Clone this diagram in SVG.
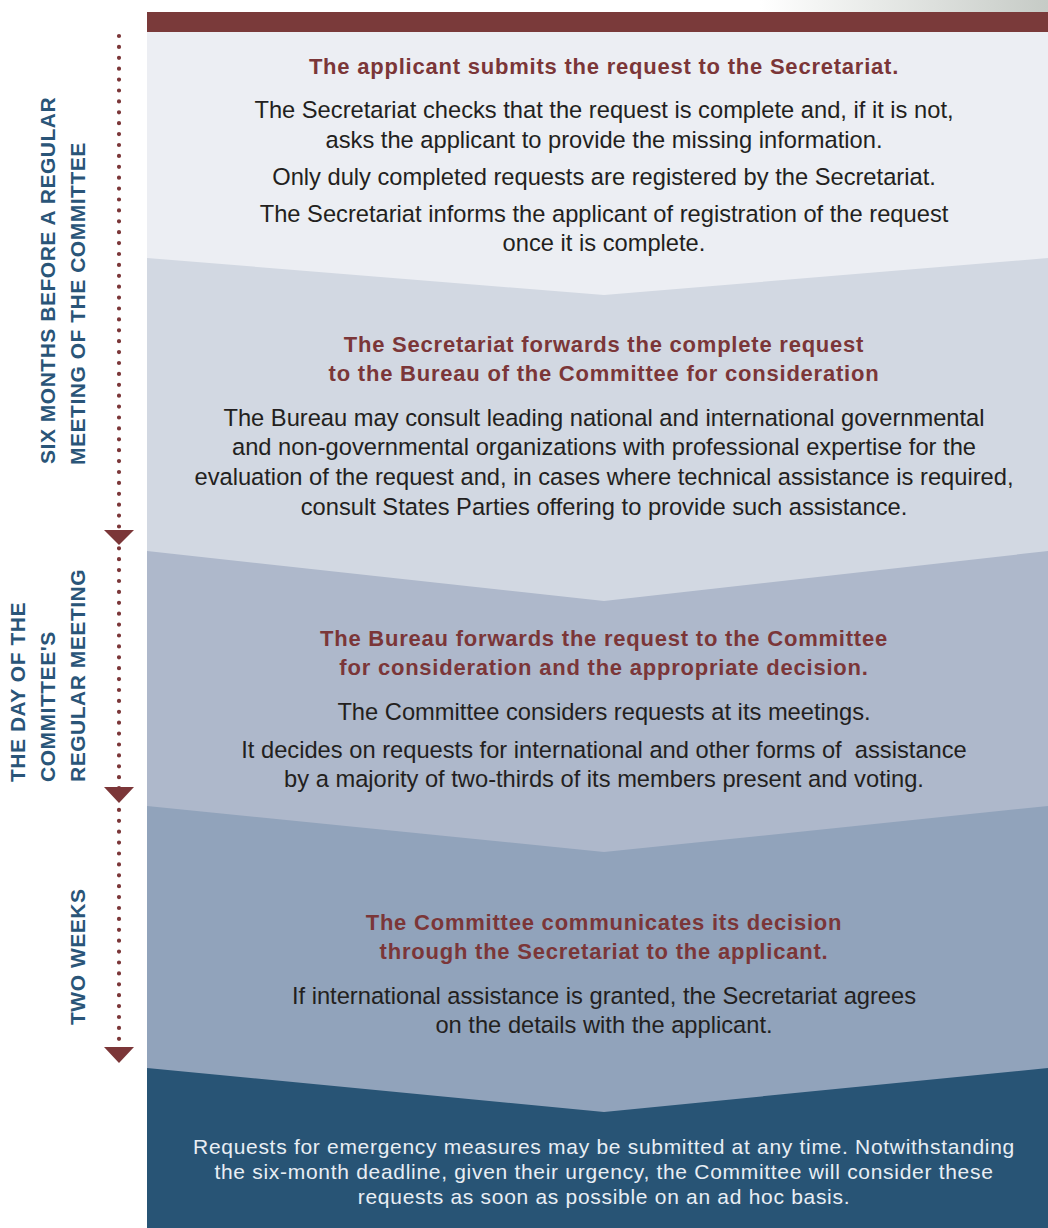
<svg xmlns="http://www.w3.org/2000/svg" width="1048" height="1228" viewBox="0 0 1048 1228">
<defs>
<linearGradient id="topg" x1="0" y1="0" x2="1" y2="0">
<stop offset="0" stop-color="#ffffff"/>
<stop offset="1" stop-color="#c6cbc6"/>
</linearGradient>
<style>
.t{font-family:"Liberation Sans",Arial,sans-serif;font-weight:bold;font-size:22px;fill:#7b3638;text-anchor:middle;letter-spacing:0.78px}
.b{font-family:"Liberation Sans",Arial,sans-serif;font-size:23.7px;fill:#231f20;text-anchor:middle}
.n{font-family:"Liberation Sans",Arial,sans-serif;font-size:21px;fill:#e9eef4;text-anchor:middle;letter-spacing:0.7px}
.v{font-family:"Liberation Sans",Arial,sans-serif;font-weight:bold;font-size:21px;fill:#2a5578;letter-spacing:0.52px}
.dots{stroke:#7b3638;stroke-width:4.2;stroke-linecap:round;stroke-dasharray:0 10.9;fill:none}
.ah{fill:#7b3638}
</style>
</defs>
<rect x="0" y="0" width="1048" height="1228" fill="#ffffff"/>
<rect x="760" y="0" width="288" height="12" fill="url(#topg)"/>

<g id="panel5">
<rect x="147" y="1050" width="901" height="178" fill="#285475"/>
<text class="n" x="604" y="1154">Requests for emergency measures may be submitted at any time. Notwithstanding</text>
<text class="n" x="604" y="1179">the six-month deadline, given their urgency, the Committee will consider these</text>
<text class="n" x="604" y="1204">requests as soon as possible on an ad hoc basis.</text>
</g>

<g id="panel4">
<polygon points="147,790 1048,790 1048,1068 604,1112 147,1068" fill="#91a3bb"/>
<text class="t" x="604" y="930">The Committee communicates its decision</text>
<text class="t" x="604" y="959">through the Secretariat to the applicant.</text>
<text class="b" x="604" y="1004">If international assistance is granted, the Secretariat agrees</text>
<text class="b" x="604" y="1033">on the details with the applicant.</text>
</g>

<g id="panel3">
<polygon points="147,540 1048,540 1048,806 604,852 147,806" fill="#aeb8cb"/>
<text class="t" x="604" y="646">The Bureau forwards the request to the Committee</text>
<text class="t" x="604" y="675">for consideration and the appropriate decision.</text>
<text class="b" x="604" y="720">The Committee considers requests at its meetings.</text>
<text class="b" x="604" y="758" xml:space="preserve">It decides on requests for international and other forms of  assistance</text>
<text class="b" x="604" y="787">by a majority of two-thirds of its members present and voting.</text>
</g>

<g id="panel2">
<polygon points="147,250 1048,250 1048,551 604,601 147,551" fill="#d2d8e2"/>
<text class="t" x="604" y="352">The Secretariat forwards the complete request</text>
<text class="t" x="604" y="381">to the Bureau of the Committee for consideration</text>
<text class="b" x="604" y="426">The Bureau may consult leading national and international governmental</text>
<text class="b" x="604" y="455">and non-governmental organizations with professional expertise for the</text>
<text class="b" x="604" y="485">evaluation of the request and, in cases where technical assistance is required,</text>
<text class="b" x="604" y="515">consult States Parties offering to provide such assistance.</text>
</g>

<g id="panel1">
<polygon points="147,32 1048,32 1048,258 604,295 147,258" fill="#eceef3"/>
<rect x="147" y="12" width="901" height="20" fill="#7a3a3a"/>
<text class="t" x="604" y="74">The applicant submits the request to the Secretariat.</text>
<text class="b" x="604" y="118">The Secretariat checks that the request is complete and, if it is not,</text>
<text class="b" x="604" y="148">asks the applicant to provide the missing information.</text>
<text class="b" x="604" y="185">Only duly completed requests are registered by the Secretariat.</text>
<text class="b" x="604" y="222">The Secretariat informs the applicant of registration of the request</text>
<text class="b" x="604" y="251">once it is complete.</text>
</g>

<g id="timeline-labels">
<text class="v" transform="translate(55,464) rotate(-90)">SIX MONTHS BEFORE A REGULAR</text>
<text class="v" transform="translate(85,465) rotate(-90)">MEETING OF THE COMMITTEE</text>
<text class="v" transform="translate(25,782) rotate(-90)">THE DAY OF THE</text>
<text class="v" transform="translate(55,782) rotate(-90)">COMMITTEE'S</text>
<text class="v" transform="translate(85,782) rotate(-90)">REGULAR MEETING</text>
<text class="v" transform="translate(85,1025) rotate(-90)">TWO WEEKS</text>
</g>

<g id="connectors">
<line class="dots" x1="119" y1="36" x2="119" y2="1046"/>
<polygon class="ah" points="104,530 134,530 119,545"/>
<polygon class="ah" points="104,787 134,787 119,803"/>
<polygon class="ah" points="104,1047 134,1047 119,1063"/>
</g>
</svg>
